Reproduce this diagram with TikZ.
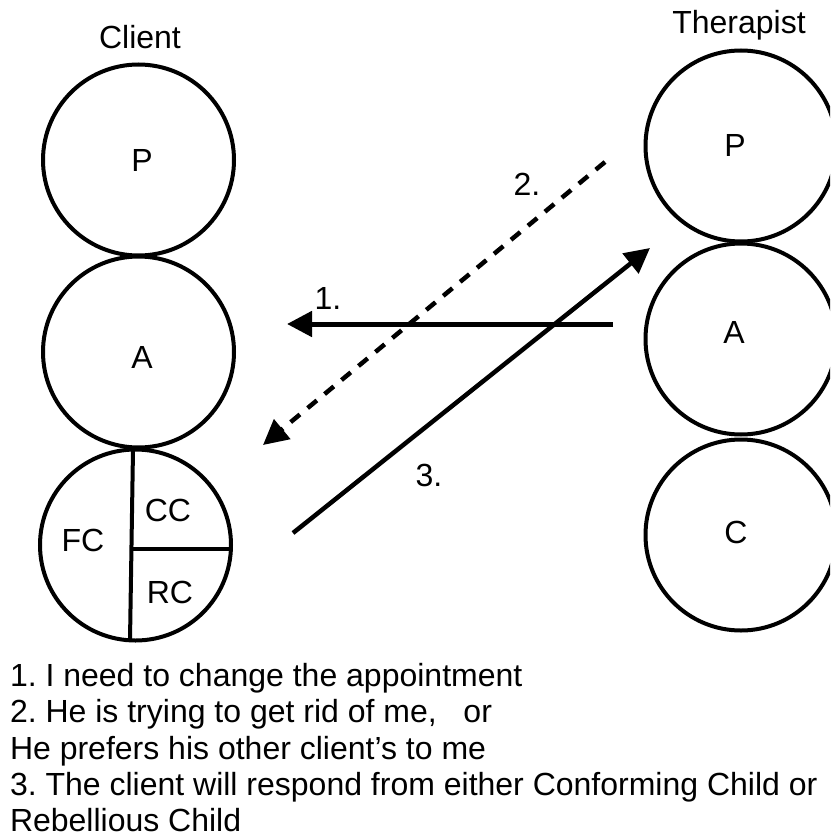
\documentclass[tikz,border=0pt]{standalone}
\usepackage{fontspec}
\setmainfont{Liberation Sans}
\usetikzlibrary{arrows.meta}
\frenchspacing
\begin{document}
\begin{tikzpicture}[x=1pt,y=-1pt,
  txt/.style={font=\fontsize{32pt}{36.5pt}\selectfont, inner sep=0pt, outer sep=0pt},
  ego/.style={circle, draw, line width=4pt, minimum size=191pt, inner sep=0pt},
  divider/.style={line width=4pt},
  conn/.style={line width=4.5pt, -{Triangle[length=25pt,width=25pt]}},
  dashconn/.style={conn, dash pattern=on 12pt off 10pt}]
\path[use as bounding box, clip] (0,0) rectangle (830,837);
% headings
\node[txt, anchor=base] (clab) at (140,49) {Client};
\node[txt, anchor=base] (tlab) at (739,34) {Therapist};
% client ego states
\node[ego] (cP) at (138.5,160) {};
\node[ego] (cA) at (138.5,352) {};
\node[ego] (cC) at (135.5,545) {};
\node[txt, anchor=base] (cPl) at (142,171.5) {P};
\node[txt, anchor=base] (cAl) at (142,368) {A};
% child subdivision
\coordinate (vtop) at (133,449.5);
\coordinate (vbot) at (130,640.5);
\coordinate (hl) at (133,549);
\coordinate (hr) at (229,549);
\draw[divider] (vtop) -- (vbot);
\draw[divider] (hl) -- (hr);
\node[txt, anchor=base] (fc) at (83,551) {FC};
\node[txt, anchor=base] (cc) at (168,521) {CC};
\node[txt, anchor=base] (rc) at (170,603) {RC};
% therapist ego states
\node[ego] (tP) at (741,146) {};
\node[ego] (tA) at (741,339) {};
\node[ego] (tC) at (741,535) {};
\node[txt, anchor=base] (tPl) at (735,157) {P};
\node[txt, anchor=base] (tAl) at (734,343) {A};
\node[txt, anchor=base] (tCl) at (736,543) {C};
% transactions
\coordinate (a1s) at (613,324);
\coordinate (a1e) at (287,324);
\coordinate (a2s) at (605,162);
\coordinate (a2e) at (263,445);
\coordinate (a3s) at (293,533);
\coordinate (a3e) at (650,248);
\draw[conn, line width=5pt] (a1s) -- (a1e);
\draw[dashconn] (a2s) -- (a2e);
\draw[conn] (a3s) -- (a3e);
\node[txt, anchor=base] (l1) at (328,309) {1.};
\node[txt, anchor=base] (l2) at (527,196) {2.};
\node[txt, anchor=base] (l3) at (429,486) {3.};
% legend
\node[txt, anchor=base west] (t1) at (10,686) {1. I need to change the appointment};
\node[txt, anchor=base west] (t2) at (10,722.5) {2. He is trying to get rid of me,\ \ \ or};
\node[txt, anchor=base west] (t3) at (10,759) {He prefers his other client’s to me};
\node[txt, anchor=base west] (t4) at (10,795.5) {3. The client will respond from either Conforming Child or};
\node[txt, anchor=base west] (t5) at (10,831) {Rebellious Child};
\end{tikzpicture}
\end{document}
